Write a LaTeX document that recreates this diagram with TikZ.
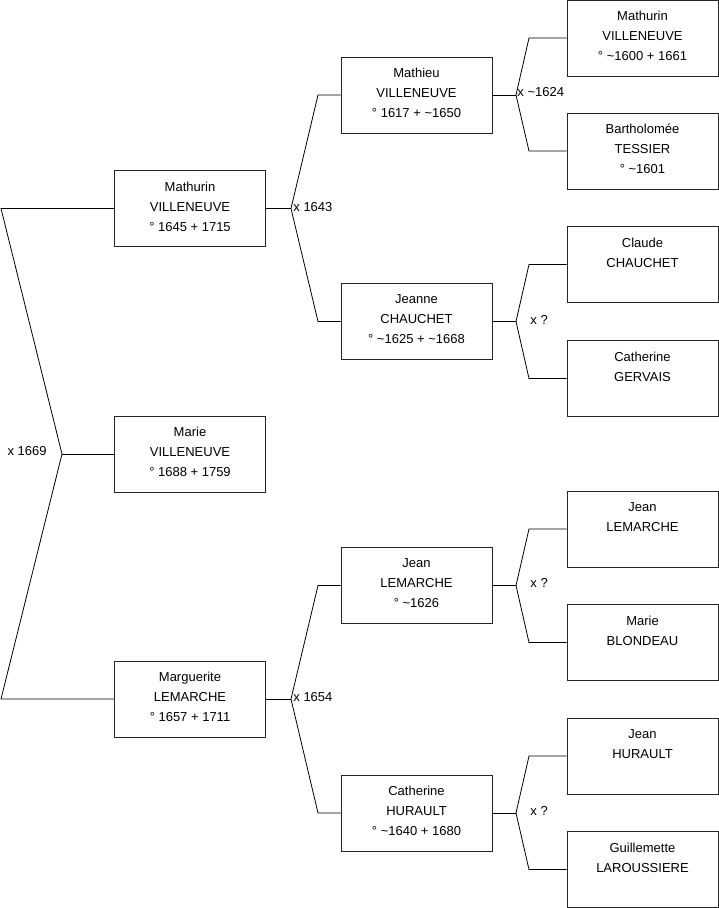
\documentclass[tikz,border=0pt]{standalone}
\usepackage{fontspec}
\setmainfont{Liberation Sans}

\tikzset{
  person/.style={draw=black!85, minimum width=151, minimum height=76,
    inner sep=0pt, align=center, font=\fontsize{13}{20}\selectfont,
    execute at end node={\rule[-4pt]{0pt}{4pt}}},
  union/.style={inner sep=1pt, font=\fontsize{13}{20}\selectfont},
}

\begin{document}
\begin{tikzpicture}[x=1pt,y=-1pt,line width=.8pt]

\useasboundingbox (0,0) rectangle (719,908);

% generation 1 and 2
\node[person] (marie) at (190,454) {Marie\\VILLENEUVE\\° 1688 + 1759};
\node[person] (mathurin) at (190,208.5) {Mathurin\\VILLENEUVE\\° 1645 + 1715};
\node[person] (marguerite) at (190,699) {Marguerite\\LEMARCHE\\° 1657 + 1711};

% generation 3
\node[person] (mathieu) at (416.5,95) {Mathieu\\VILLENEUVE\\° 1617 + \textasciitilde1650};
\node[person] (jeanne) at (416.5,321.5) {Jeanne\\CHAUCHET\\° \textasciitilde1625 + \textasciitilde1668};
\node[person] (jean) at (416.5,585.5) {Jean\\LEMARCHE\\° \textasciitilde1626};
\node[person] (catherine) at (416.5,813) {Catherine\\HURAULT\\° \textasciitilde1640 + 1680};

% generation 4
\node[person] (mathurinv) at (642.5,38) {Mathurin\\VILLENEUVE\\° \textasciitilde1600 + 1661};
\node[person] (bartholomee) at (642.5,151) {Bartholomée\\TESSIER\\° \textasciitilde1601};
\node[person] (claude) at (642.5,264.5) {Claude\\CHAUCHET\\\mbox{}};
\node[person] (catherineg) at (642.5,378.5) {Catherine\\GERVAIS\\\mbox{}};
\node[person] (jeanl) at (642.5,529) {Jean\\LEMARCHE\\\mbox{}};
\node[person] (marieb) at (642.5,642.5) {Marie\\BLONDEAU\\\mbox{}};
\node[person] (jeanh) at (642.5,756) {Jean\\HURAULT\\\mbox{}};
\node[person] (guillemette) at (642.5,869.5) {Guillemette\\LAROUSSIERE\\\mbox{}};

% unions
\coordinate (u1) at (62,454);
\coordinate (u1a) at (1,208.5);
\coordinate (u1b) at (1,699);
\draw (marie.west) -- (u1);
\draw (mathurin.west) -- (u1a) -- (u1) -- (u1b) -- (marguerite.west);
\node[union, anchor=east] (x1) at (48,451) {x 1669};

\coordinate (u2) at (291,208.5);
\coordinate (u2a) at (318,95);
\coordinate (u2b) at (318,321.5);
\draw (mathurin.east) -- (u2);
\draw (mathieu.west) -- (u2a) -- (u2) -- (u2b) -- (jeanne.west);
\node[union, anchor=west] (x2) at (292,207) {x 1643};

\coordinate (u3) at (291,699);
\coordinate (u3a) at (318,585.5);
\coordinate (u3b) at (318,813);
\draw (marguerite.east) -- (u3);
\draw (jean.west) -- (u3a) -- (u3) -- (u3b) -- (catherine.west);
\node[union, anchor=west] (x3) at (292,697.5) {x 1654};

\coordinate (u4) at (516,95);
\coordinate (u4a) at (529,38);
\coordinate (u4b) at (529,151);
\draw (mathieu.east) -- (u4);
\draw (mathurinv.west) -- (u4a) -- (u4) -- (u4b) -- (bartholomee.west);
\node[union, anchor=west] (x4) at (516,92) {x \textasciitilde1624};

\coordinate (u5) at (516,321.5);
\coordinate (u5a) at (529,264.5);
\coordinate (u5b) at (529,378.5);
\draw (jeanne.east) -- (u5);
\draw (claude.west) -- (u5a) -- (u5) -- (u5b) -- (catherineg.west);
\node[union, anchor=west] (x5) at (529,319.5) {x ?};

\coordinate (u6) at (516,585.5);
\coordinate (u6a) at (529,529);
\coordinate (u6b) at (529,642.5);
\draw (jean.east) -- (u6);
\draw (jeanl.west) -- (u6a) -- (u6) -- (u6b) -- (marieb.west);
\node[union, anchor=west] (x6) at (529,583) {x ?};

\coordinate (u7) at (516,813);
\coordinate (u7a) at (529,756);
\coordinate (u7b) at (529,869.5);
\draw (catherine.east) -- (u7);
\draw (jeanh.west) -- (u7a) -- (u7) -- (u7b) -- (guillemette.west);
\node[union, anchor=west] (x7) at (529,810.5) {x ?};

\end{tikzpicture}
\end{document}
